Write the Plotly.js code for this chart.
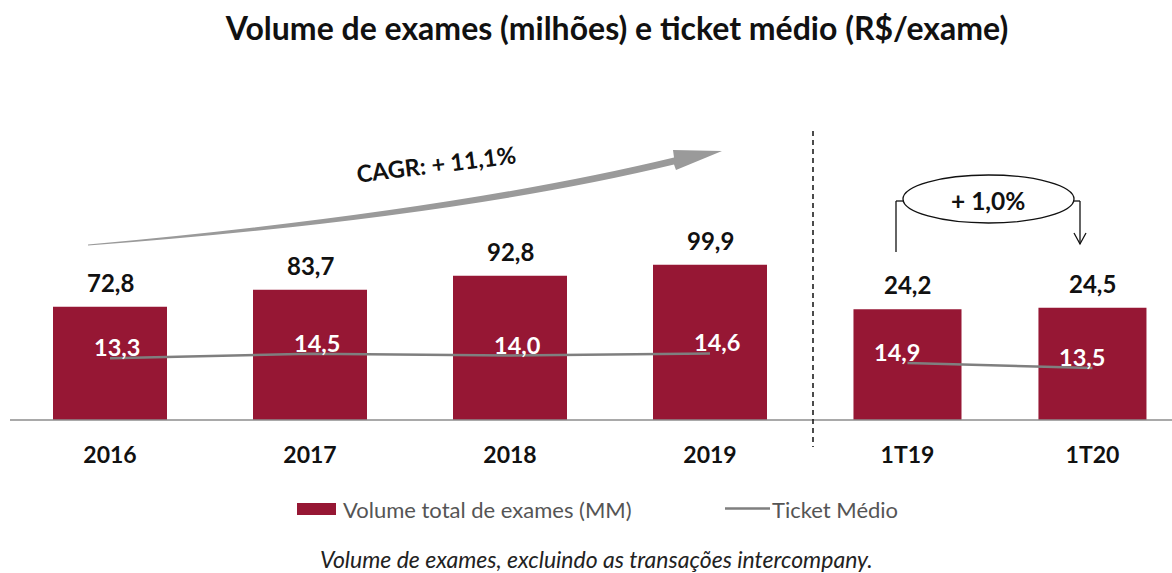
<!DOCTYPE html>
<html>
<head>
<meta charset="utf-8">
<script src="https://cdn.plot.ly/plotly-3.0.1.min.js"></script>
<style>html,body{margin:0;padding:0;background:#fff;}#chart{width:1172px;height:573px;}</style>
</head>
<body>
<div id="chart"></div>
<script>
// ---- data ----
const annualCats = ['2016', '2017', '2018', '2019'];
const annualVolume = [72.8, 83.7, 92.8, 99.9];
const annualTicket = [13.3, 14.5, 14.0, 14.6];
const quarterCats = ['1T19', '1T20'];
const quarterVolume = [24.2, 24.5];
const quarterTicket = [14.9, 13.5];
const volumeName = 'Volume total de exames (MM)';
const ticketName = 'Ticket Médio';
const cagrText = 'CAGR: + 11,1%';
const quarterGrowthText = '+ 1,0%';
const titleText = 'Volume de exames (milhões) e ticket médio (R$/exame)';
const footnoteText = 'Volume de exames, excluindo as transações intercompany.';

// ---- helpers ----
const W = 1172, H = 573;
const px = x => x / W;
const py = y => 1 - y / H;
const fmt = v => v.toFixed(1).replace('.', ',');
const FONT = 'Lato, "Open Sans", sans-serif';
const BAR = '#961734';
const LINE = '#7f7f7f';

const traces = [
  { type: 'bar', name: volumeName, x: annualCats, y: annualVolume, xaxis: 'x', yaxis: 'y',
    width: 0.57, marker: { color: BAR }, hoverinfo: 'skip', showlegend: false },
  { type: 'bar', name: volumeName, x: quarterCats, y: quarterVolume, xaxis: 'x2', yaxis: 'y3',
    width: 0.584, marker: { color: BAR }, hoverinfo: 'skip', showlegend: false },
  { type: 'scatter', mode: 'lines', name: ticketName, x: annualCats, y: annualTicket, xaxis: 'x', yaxis: 'y2',
    line: { color: LINE, width: 2.5 }, hoverinfo: 'skip', showlegend: false },
  { type: 'scatter', mode: 'lines', name: ticketName, x: quarterCats, y: quarterTicket, xaxis: 'x2', yaxis: 'y4',
    line: { color: LINE, width: 2.5 }, hoverinfo: 'skip', showlegend: false }
];

const annotations = [];
// category positions are given by index so that numeric-looking categories (years) stay on the category axis
function addLabels(cats, vols, tickets, xref, yref, yref2, tx) {
  cats.forEach((c, i) => {
    annotations.push({ x: i, y: vols[i], xref: xref, yref: yref, text: '<b>' + fmt(vols[i]) + '</b>', showarrow: false,
      yanchor: 'bottom', xanchor: 'center', yshift: 8,
      font: { family: FONT, size: 24, color: '#111' } });
    annotations.push({ x: i, y: tickets[i], xref: xref, yref: yref2, text: '<b>' + fmt(tickets[i]) + '</b>', showarrow: false,
      yanchor: 'middle', xanchor: 'center', yshift: 11, xshift: tx,
      font: { family: FONT, size: 23.5, color: '#ffffff' } });
  });
}
addLabels(annualCats, annualVolume, annualTicket, 'x', 'y', 'y2', 7);
addLabels(quarterCats, quarterVolume, quarterTicket, 'x2', 'y3', 'y4', -10);

annotations.push(
  { xref: 'paper', yref: 'paper', x: px(436), y: py(164), text: '<b>' + cagrText + '</b>', showarrow: false, textangle: -7,
    xanchor: 'center', yanchor: 'middle', font: { family: FONT, size: 23.5, color: '#111' } },
  { xref: 'paper', yref: 'paper', x: px(988), y: py(200), text: '<b>' + quarterGrowthText + '</b>', showarrow: false,
    xanchor: 'center', yanchor: 'middle', font: { family: FONT, size: 24.5, color: '#111' } },
  { xref: 'paper', yref: 'paper', x: px(341), y: py(509), text: volumeName, showarrow: false,
    xanchor: 'left', yanchor: 'middle', font: { family: FONT, size: 22, color: '#555' } },
  { xref: 'paper', yref: 'paper', x: px(770), y: py(509), text: ticketName, showarrow: false,
    xanchor: 'left', yanchor: 'middle', font: { family: FONT, size: 22, color: '#555' } },
  { xref: 'paper', yref: 'paper', x: px(596), y: py(559), text: '<i>' + footnoteText + '</i>', showarrow: false,
    xanchor: 'center', yanchor: 'middle', font: { family: FONT, size: 23, color: '#222' } }
);

function P(x, y) { return px(x).toFixed(5) + ',' + py(y).toFixed(5); }
const arrowPath = 'M' + P(88, 244.6) + ' Q' + P(450, 211.5) + ' ' + P(674, 157.5) +
  ' L' + P(673, 150) + ' L' + P(722, 151) + ' L' + P(676, 170) + ' L' + P(674, 164.5) +
  ' Q' + P(450, 218.5) + ' ' + P(88, 245.6) + ' Z';

const shapes = [
  { type: 'line', xref: 'paper', yref: 'paper', x0: px(10), x1: 1, y0: py(420), y1: py(420),
    line: { color: '#8c8c8c', width: 1.5 } },
  { type: 'line', xref: 'paper', yref: 'paper', x0: px(813), x1: px(813), y0: py(131), y1: py(447),
    line: { color: '#111', width: 1.5, dash: '5px,4px' } },
  { type: 'path', xref: 'paper', yref: 'paper', path: arrowPath, fillcolor: '#9a9a9a', line: { width: 0 } },
  { type: 'line', xref: 'paper', yref: 'paper', x0: px(896), x1: px(896), y0: py(252), y1: py(201),
    line: { color: '#111', width: 1.3 } },
  { type: 'line', xref: 'paper', yref: 'paper', x0: px(896), x1: px(904), y0: py(201), y1: py(201),
    line: { color: '#111', width: 1.3 } },
  { type: 'line', xref: 'paper', yref: 'paper', x0: px(1073), x1: px(1080), y0: py(201), y1: py(201),
    line: { color: '#111', width: 1.3 } },
  { type: 'line', xref: 'paper', yref: 'paper', x0: px(1080), x1: px(1080), y0: py(201), y1: py(244),
    line: { color: '#111', width: 1.3 } },
  { type: 'path', xref: 'paper', yref: 'paper', path: 'M' + P(1074, 233) + ' L' + P(1080, 244) + ' L' + P(1086, 233),
    line: { color: '#111', width: 1.3 } },
  { type: 'circle', xref: 'paper', yref: 'paper', x0: px(903), x1: px(1074), y0: py(175), y1: py(223),
    fillcolor: '#fff', line: { color: '#111', width: 1.3 }, layer: 'below' },
  { type: 'rect', xref: 'paper', yref: 'paper', x0: px(297), x1: px(336), y0: py(503), y1: py(515),
    fillcolor: BAR, line: { width: 0 } },
  { type: 'line', xref: 'paper', yref: 'paper', x0: px(725), x1: px(770), y0: py(508.5), y1: py(508.5),
    line: { color: LINE, width: 2.5 } }
];

const tickFont = { family: FONT, size: 23, weight: 'bold', color: '#111' };
const layout = {
  width: W, height: H,
  margin: { l: 0, r: 0, t: 0, b: 0 },
  paper_bgcolor: '#fff', plot_bgcolor: 'rgba(0,0,0,0)',
  showlegend: false,
  title: { text: '<b>' + titleText + '</b>', x: px(617), xanchor: 'center', y: py(29), yanchor: 'middle',
    font: { family: FONT, size: 32, color: '#111' } },
  xaxis: { domain: [px(10), px(810)], type: 'category', range: [-0.5, 3.5], anchor: 'y',
    showgrid: false, zeroline: false, showline: false, ticks: 'outside', ticklen: 14,
    tickcolor: 'rgba(0,0,0,0)', tickfont: tickFont, fixedrange: true },
  xaxis2: { domain: [px(815), 1], type: 'category', range: [-0.5, 1.43], anchor: 'y3',
    showgrid: false, zeroline: false, showline: false, ticks: 'outside', ticklen: 14,
    tickcolor: 'rgba(0,0,0,0)', tickfont: tickFont, fixedrange: true },
  yaxis: { domain: [py(420), py(130)], range: [0, 186.5], anchor: 'x', visible: false, fixedrange: true },
  yaxis2: { overlaying: 'y', range: [-3.5, 75.3], anchor: 'x', visible: false, fixedrange: true },
  yaxis3: { domain: [py(420), py(130)], range: [0, 63.3], anchor: 'x2', visible: false, fixedrange: true },
  yaxis4: { overlaying: 'y3', range: [-1.07, 80.2], anchor: 'x2', visible: false, fixedrange: true },
  annotations: annotations,
  shapes: shapes
};

Plotly.newPlot('chart', traces, layout, { displayModeBar: false, staticPlot: true });
</script>
</body>
</html>
